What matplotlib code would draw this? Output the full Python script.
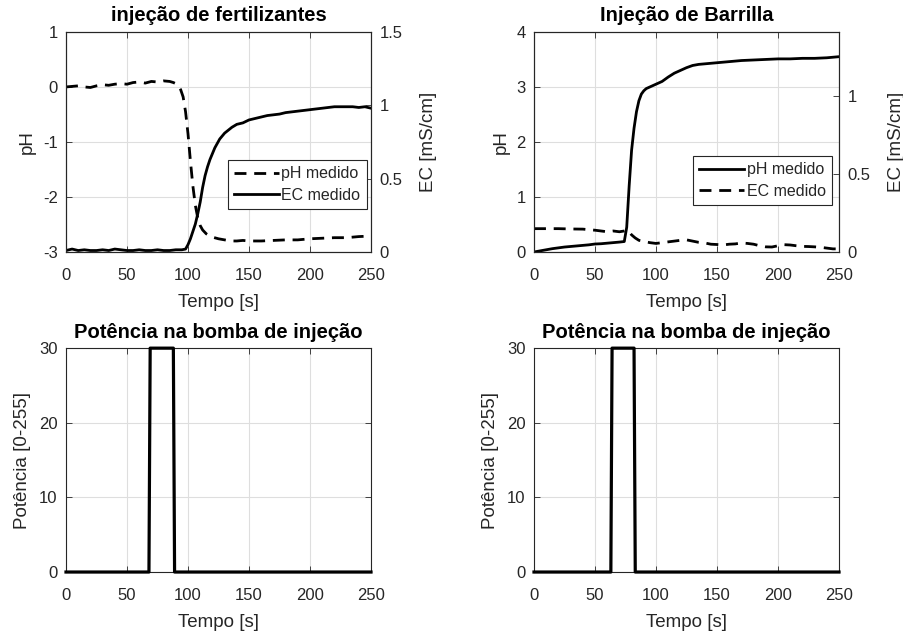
import matplotlib
matplotlib.use("Agg")
import matplotlib.pyplot as plt
from matplotlib.ticker import FixedLocator, FixedFormatter

plt.rcParams['font.family'] = ['Liberation Sans', 'DejaVu Sans']
plt.rcParams['axes.unicode_minus'] = False

# --- Injeção de fertilizantes: pH (dashed, left) and EC (solid, right) ---
fert_ph_t = [0, 5, 10, 15, 20, 25, 30, 35, 40, 45, 50, 55, 60, 65, 70, 75, 80, 85,
             88, 90, 92, 94, 96, 98, 100, 102, 104, 106, 108, 110, 112, 115, 118,
             120, 125, 130, 135, 140, 145, 150, 160, 170, 180, 190, 200, 210, 220,
             230, 240, 250]
fert_ph = [0.00, 0.01, 0.02, 0.00, -0.01, 0.02, 0.04, 0.03, 0.05, 0.06, 0.05, 0.08,
           0.09, 0.07, 0.10, 0.09, 0.11, 0.10, 0.08, 0.06, 0.02, -0.05, -0.18, -0.45,
           -0.85, -1.35, -1.80, -2.15, -2.38, -2.52, -2.60, -2.67, -2.71, -2.73, -2.76,
           -2.78, -2.80, -2.80, -2.79, -2.80, -2.80, -2.79, -2.78, -2.78, -2.76, -2.75,
           -2.74, -2.74, -2.72, -2.71]

fert_ec_t = [0, 5, 10, 15, 20, 25, 30, 35, 40, 45, 50, 55, 60, 65, 70, 75, 80, 85,
             90, 95, 98, 100, 102, 104, 106, 108, 110, 112, 114, 116, 118, 120, 122,
             124, 126, 128, 130, 133, 136, 140, 145, 150, 155, 160, 165, 170, 175,
             180, 185, 190, 195, 200, 205, 210, 215, 220, 225, 230, 235, 240, 245, 250]
fert_ec = [0.01, 0.02, 0.01, 0.015, 0.01, 0.01, 0.015, 0.01, 0.02, 0.015, 0.01, 0.01,
           0.015, 0.01, 0.01, 0.015, 0.01, 0.01, 0.015, 0.015, 0.02, 0.05, 0.09, 0.14,
           0.19, 0.26, 0.34, 0.44, 0.52, 0.58, 0.63, 0.67, 0.71, 0.74, 0.77, 0.79, 0.81,
           0.83, 0.85, 0.87, 0.88, 0.90, 0.91, 0.92, 0.93, 0.935, 0.94, 0.95, 0.955,
           0.96, 0.965, 0.97, 0.975, 0.98, 0.985, 0.99, 0.99, 0.99, 0.99, 0.985, 0.99,
           0.98]

# --- Injeção de Barrilla: pH (solid, left) and EC (dashed, right) ---
barr_ph_t = [0, 5, 10, 15, 20, 25, 30, 35, 40, 45, 50, 55, 60, 65, 70, 74, 76, 78,
             80, 82, 84, 86, 88, 90, 92, 95, 100, 105, 110, 115, 120, 125, 130, 135,
             140, 150, 160, 170, 180, 190, 200, 210, 220, 230, 240, 250]
barr_ph = [0.00, 0.02, 0.04, 0.06, 0.075, 0.09, 0.10, 0.11, 0.12, 0.13, 0.145, 0.15,
           0.16, 0.17, 0.18, 0.19, 0.45, 1.20, 1.85, 2.25, 2.55, 2.75, 2.87, 2.93,
           2.97, 3.00, 3.05, 3.10, 3.18, 3.25, 3.30, 3.35, 3.39, 3.41, 3.42, 3.44,
           3.46, 3.48, 3.49, 3.50, 3.51, 3.51, 3.52, 3.52, 3.53, 3.55]

barr_ec_t = [0, 10, 20, 30, 40, 50, 55, 60, 65, 70, 74, 76, 78, 80, 83, 86, 90, 95,
             100, 105, 110, 115, 120, 125, 130, 135, 140, 145, 150, 155, 160, 165,
             170, 175, 180, 185, 190, 195, 200, 205, 210, 215, 220, 225, 230, 235,
             240, 245, 250]
barr_ec = [0.15, 0.15, 0.15, 0.148, 0.147, 0.14, 0.135, 0.13, 0.135, 0.13, 0.135,
           0.14, 0.13, 0.11, 0.09, 0.075, 0.068, 0.06, 0.055, 0.06, 0.065, 0.07,
           0.075, 0.078, 0.07, 0.062, 0.058, 0.05, 0.048, 0.045, 0.05, 0.052, 0.058,
           0.055, 0.05, 0.04, 0.033, 0.032, 0.04, 0.047, 0.045, 0.04, 0.036, 0.035,
           0.033, 0.03, 0.025, 0.02, 0.02]

# --- Pump power (0-255 scale) ---
pump_fert_t = [0, 68, 69, 88, 89, 250]
pump_fert = [0, 0, 30, 30, 0, 0]
pump_barr_t = [0, 63, 64, 82, 83, 250]
pump_barr = [0, 0, 30, 30, 0, 0]

x_ticks = [0, 50, 100, 150, 200, 250]

TXT = '#262626'
GRID = '#dedede'
LW = 2.0
DASH = (4.3, 2.8)
FS_TICK = 12
FS_LABEL = 13.5
FS_TITLE = 14.5
FS_LEG = 11.5


def style_axes(ax, box_ticks=True):
    ax.set_xlim(0, 250)
    ax.xaxis.set_major_locator(FixedLocator(x_ticks))
    ax.grid(True, color=GRID, linewidth=0.8)
    ax.set_axisbelow(True)
    ax.tick_params(direction='in', length=4, width=0.6, colors=TXT,
                   labelsize=FS_TICK, top=box_ticks, right=box_ticks)
    ax.tick_params(axis='x', pad=11.5)
    ax.tick_params(axis='y', pad=6)
    for s in ax.spines.values():
        s.set_color(TXT)
        s.set_linewidth(0.8)
    ax.set_xlabel('Tempo [s]', fontsize=FS_LABEL, color=TXT, labelpad=8)


def style_right(ax2, ticks, labels, top):
    ax2.set_ylim(0, top)
    ax2.yaxis.set_major_locator(FixedLocator(ticks))
    ax2.yaxis.set_major_formatter(FixedFormatter(labels))
    ax2.tick_params(direction='in', length=4, width=0.6, colors=TXT,
                    labelsize=FS_TICK, pad=6)
    for s in ax2.spines.values():
        s.set_color(TXT)
        s.set_linewidth(0.8)
    ax2.set_ylabel('EC [mS/cm]', fontsize=FS_LABEL, color=TXT, labelpad=13)


def make_legend(ax, handles, anchor):
    leg = ax.legend(handles=handles, loc='upper right', bbox_to_anchor=anchor,
                    fontsize=FS_LEG, frameon=True, fancybox=False,
                    edgecolor='#262626', framealpha=1, handlelength=2.8,
                    handletextpad=0.15, borderpad=0.4, labelspacing=0.4,
                    borderaxespad=0)
    leg.get_frame().set_linewidth(0.8)
    for t in leg.get_texts():
        t.set_color(TXT)
    return leg


fig = plt.figure(figsize=(9.04, 6.36), dpi=100)

W = 0.3374
H_TOP = 0.346
H_BOT = 0.352
ax_tl = fig.add_axes([0.073, 0.6038, W, H_TOP])
ax_tr = fig.add_axes([0.5907, 0.6038, W, H_TOP])
ax_bl = fig.add_axes([0.073, 0.1006, W, H_BOT])
ax_br = fig.add_axes([0.5907, 0.1006, W, H_BOT])

# Top-left
style_axes(ax_tl, box_ticks=False)
ax_tl.tick_params(top=True)
ax_tl.set_ylim(-3, 1)
ax_tl.yaxis.set_major_locator(FixedLocator([-3, -2, -1, 0, 1]))
ax_tl.set_ylabel('pH', fontsize=FS_LABEL, color=TXT, labelpad=5)
l1, = ax_tl.plot(fert_ph_t, fert_ph, color='black', lw=LW, dashes=DASH,
                 label='pH medido')
ax_tl2 = ax_tl.twinx()
style_right(ax_tl2, [0, 0.5, 1, 1.5], ['0', '0.5', '1', '1.5'], 1.5)
l2, = ax_tl2.plot(fert_ec_t, fert_ec, color='black', lw=LW, label='EC medido')
ax_tl.set_title('injeção de fertilizantes', fontsize=FS_TITLE, fontweight='bold',
                pad=8)
make_legend(ax_tl2, [l1, l2], (0.986, 0.418))

# Top-right
style_axes(ax_tr, box_ticks=False)
ax_tr.tick_params(top=True)
ax_tr.set_ylim(0, 4)
ax_tr.yaxis.set_major_locator(FixedLocator([0, 1, 2, 3, 4]))
ax_tr.set_ylabel('pH', fontsize=FS_LABEL, color=TXT, labelpad=5)
l3, = ax_tr.plot(barr_ph_t, barr_ph, color='black', lw=LW, label='pH medido')
ax_tr2 = ax_tr.twinx()
style_right(ax_tr2, [0, 0.5, 1], ['0', '0.5', '1'], 1.415)
l4, = ax_tr2.plot(barr_ec_t, barr_ec, color='black', lw=LW, dashes=DASH,
                  label='EC medido')
ax_tr.set_title('Injeção de Barrilla', fontsize=FS_TITLE, fontweight='bold', pad=8)
make_legend(ax_tr2, [l3, l4], (0.977, 0.436))

# Bottom panels: pump power
for ax, tt, pp in [(ax_bl, pump_fert_t, pump_fert), (ax_br, pump_barr_t, pump_barr)]:
    style_axes(ax)
    ax.set_ylim(0, 30)
    ax.yaxis.set_major_locator(FixedLocator([0, 10, 20, 30]))
    ax.set_ylabel('Potência [0-255]', fontsize=FS_LABEL, color=TXT, labelpad=6)
    ax.plot(tt, pp, color='black', lw=LW + 0.3, clip_on=False, zorder=5)
    ax.set_title('Potência na bomba de injeção', fontsize=FS_TITLE,
                 fontweight='bold', pad=7)

fig.savefig('out.png', dpi=100)
